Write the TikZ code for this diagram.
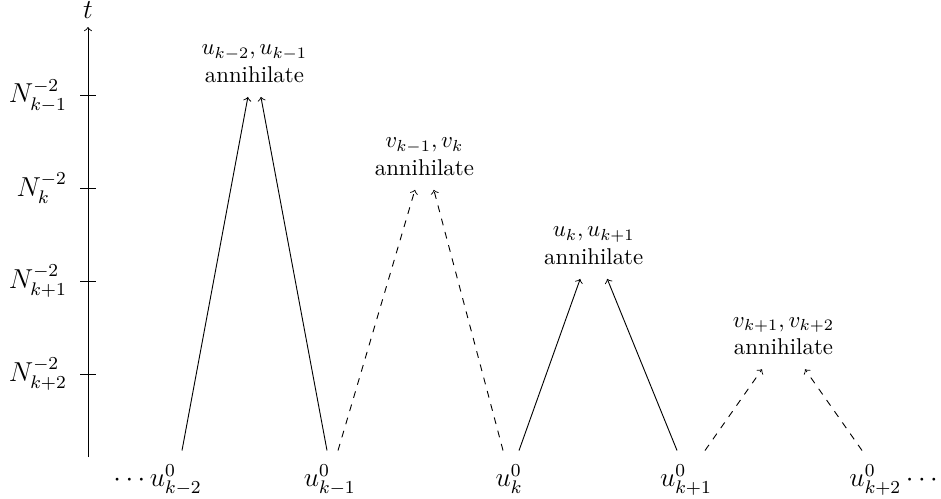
\documentclass[tikz,border=0pt]{standalone}
\usepackage{amsmath}
\usepackage{amssymb}
\usepackage{tikz}
\usetikzlibrary{calc}

\begin{document}
\begin{tikzpicture}[
      ticklab/.style={anchor=east,font=\large,inner sep=3.33pt},
      start/.style={anchor=north,font=\large,inner sep=3.33pt},
      event/.style={anchor=south,align=center},
      uline/.style={->},
      vline/.style={->,dashed}]
    \useasboundingbox (-1.354,-0.631) rectangle (13.123,7.031);
    % time axis
    \coordinate (o) at (0,0);
    \node[above,font=\large,inner sep=3.33pt] (t) at (0,6.615) {$t$};
    \draw[->] (o) -- (t.south);
    \draw (-0.12,5.56) -- (0.12,5.56);
    \draw (-0.12,4.13) -- (0.12,4.13);
    \draw (-0.12,2.70) -- (0.12,2.70);
    \draw (-0.12,1.27) -- (0.12,1.27);
    \node[ticklab] (n1) at (-0.2,5.56) {$N_{k-1}^{-2}$};
    \node[ticklab] (n2) at (-0.2,4.13) {$N_{k}^{-2}$};
    \node[ticklab] (n3) at (-0.2,2.70) {$N_{k+1}^{-2}$};
    \node[ticklab] (n4) at (-0.2,1.27) {$N_{k+2}^{-2}$};
    % initial positions
    \node[start] (b1) at (1.07,0) {$\cdots u^0_{k-2}$};
    \node[start] (b2) at (3.72,0) {$u^0_{k-1}$};
    \node[start] (b3) at (6.48,0) {$u^0_{k}$};
    \node[start] (b4) at (9.20,0) {$u^0_{k+1}$};
    \node[start] (b5) at (12.43,0) {$u^0_{k+2}\cdots$};
    % annihilation events
    \node[event] (p1) at (2.56,5.64) {$u_{k-2},u_{k-1}$\\annihilate};
    \node[event] (p2) at (5.175,4.21) {$v_{k-1},v_{k}$\\annihilate};
    \node[event] (p3) at (7.78,2.84) {$u_{k},u_{k+1}$\\annihilate};
    \node[event] (p4) at (10.70,1.45) {$v_{k+1},v_{k+2}$\\annihilate};
    \draw[uline] ($(b1.north)+(0.376,0.1)$) -- ($(p1.south)+(-0.1,-0.1)$);
    \draw[uline] ($(b2.north)+(-0.043,0.1)$) -- ($(p1.south)+(0.1,-0.1)$);
    \draw[vline] ($(b2.north)+(0.126,0.1)$) -- ($(p2.south)+(-0.145,-0.1)$);
    \draw[vline] ($(b3.north)+(-0.095,0.1)$) -- ($(p2.south)+(0.145,-0.1)$);
    \draw[uline] ($(b3.north)+(0.151,0.1)$) -- ($(p3.south)+(-0.208,-0.1)$);
    \draw[uline] ($(b4.north)+(-0.138,0.1)$) -- ($(p3.south)+(0.208,-0.1)$);
    \draw[vline] ($(b4.north)+(0.292,0.1)$) -- ($(p4.south)+(-0.33,-0.1)$);
    \draw[vline] ($(b5.north)+(-0.522,0.1)$) -- ($(p4.south)+(0.33,-0.1)$);
  \end{tikzpicture}
\end{document}
